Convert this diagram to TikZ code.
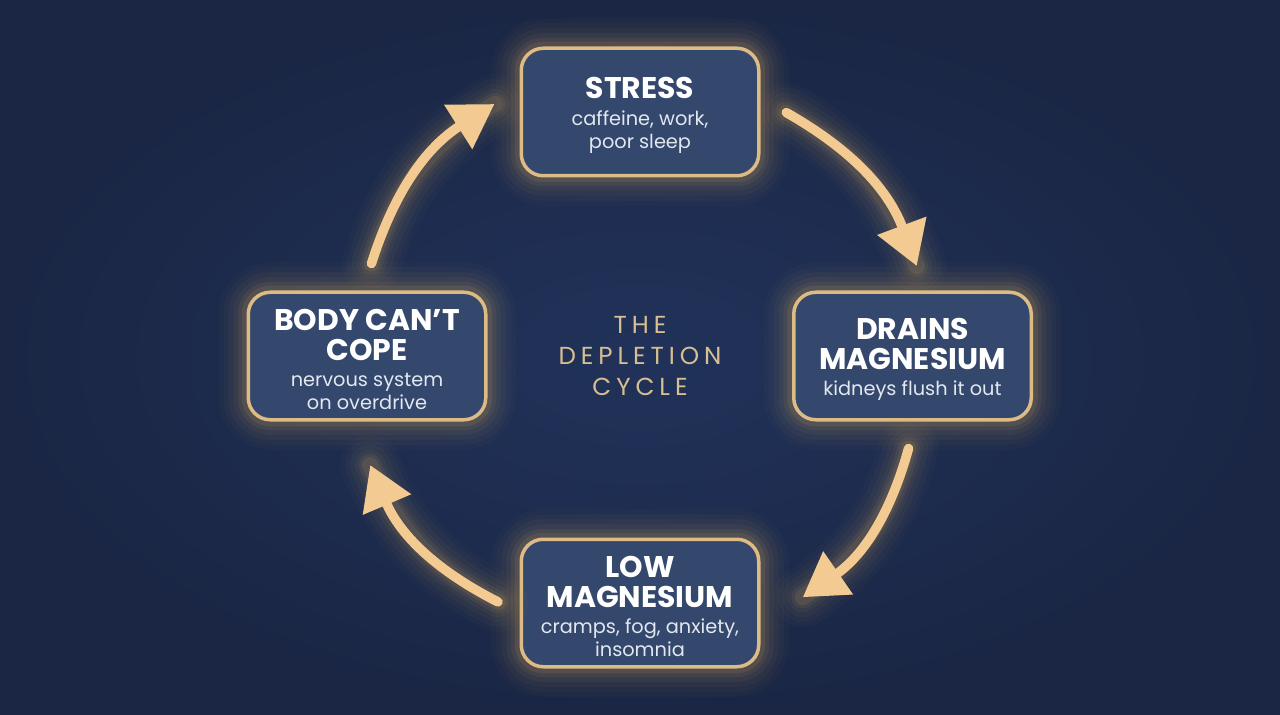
\documentclass[tikz,border=0pt]{standalone}
\usepackage{fontspec}
\setmainfont{Poppins}
\usetikzlibrary{positioning, arrows.meta, calc}
\definecolor{navymid}{HTML}{21325A}
\definecolor{navyedge}{HTML}{1A2644}
\definecolor{boxfill}{HTML}{34486D}
\definecolor{gold}{HTML}{DDBB84}
\definecolor{glow}{HTML}{F0B862}
\definecolor{arrowgold}{HTML}{F3CB92}
\definecolor{label}{HTML}{D8BE92}
\definecolor{subtext}{HTML}{E2E7F0}
\newcommand{\subfont}{\color{subtext}\mdseries\fontsize{11}{13}\selectfont}
\newcommand{\topstrut}{\rule{0pt}{16pt}}

\begin{document}
\begin{tikzpicture}[
  cyclebox/.style={
    draw=gold, line width=0.07cm, fill=boxfill, rounded corners=0.44cm,
    minimum width=4.75cm, minimum height=2.55cm, align=center, text=white,
    font=\fontsize{17}{17}\selectfont\bfseries,
    preaction={draw=glow, draw opacity=0.025, line width=1.2cm},
    preaction={draw=glow, draw opacity=0.03, line width=1.0cm},
    preaction={draw=glow, draw opacity=0.04, line width=0.8cm},
    preaction={draw=glow, draw opacity=0.05, line width=0.6cm},
    preaction={draw=glow, draw opacity=0.07, line width=0.42cm},
    preaction={draw=glow, draw opacity=0.10, line width=0.26cm}
  },
  centrelabel/.style={
    text=label, align=center,
    font=\fontsize{14}{17.6}\selectfont\addfontfeatures{LetterSpace=20}
  },
  flow/.style={arrowgold, line width=0.19cm, line cap=round,
    -{Triangle[length=0.86cm, width=1.0cm]}},
  flowglow/.style={glow, line cap=round}
]
  % background with a soft vignette
  \useasboundingbox (0,0) rectangle (25.6,14.28);
  \shade[inner color=navymid, outer color=navyedge] (0,0) rectangle (25.6,14.28);

  \node[centrelabel] (depletion) at (12.8,7.16) {THE\\DEPLETION\\CYCLE};

  \node[cyclebox] (stress) at (12.8,12.04)
    {\topstrut STRESS\\[-2pt]\subfont caffeine, work,\\[-4pt]\subfont poor sleep};
  \node[cyclebox] (drains) at (18.25,7.16)
    {\topstrut DRAINS\\MAGNESIUM\\[-2pt]\subfont kidneys flush it out};
  \node[cyclebox] (low) at (12.8,2.22)
    {\topstrut LOW\\MAGNESIUM\\[-2pt]\subfont cramps, fog, anxiety,\\[-4pt]\subfont insomnia};
  \node[cyclebox] (body) at (7.34,7.16)
    {\topstrut BODY CAN’T\\COPE\\[-2pt]\subfont nervous system\\[-4pt]\subfont on overdrive};

  % arrow ends on a circle round the label
  \foreach \s/\e/\n in {59/18/1, -19/-56/2, 240/202/3, 161/120/4} {
    \coordinate (s\n) at ($(depletion)+(\s:5.68)$);
    \coordinate (e\n) at ($(depletion)+(\e:5.82)$);
  }

  \foreach \n in {1,...,4} {
    \foreach \w/\o in {1.2/0.025, 1.0/0.03, 0.8/0.04, 0.6/0.05, 0.45/0.07, 0.32/0.1}
      \draw[flowglow, line width=\w cm, draw opacity=\o] (s\n) to[bend left=20] (e\n);
    \draw[flow] (s\n) to[bend left=20] (e\n);
  }
\end{tikzpicture}
\end{document}
